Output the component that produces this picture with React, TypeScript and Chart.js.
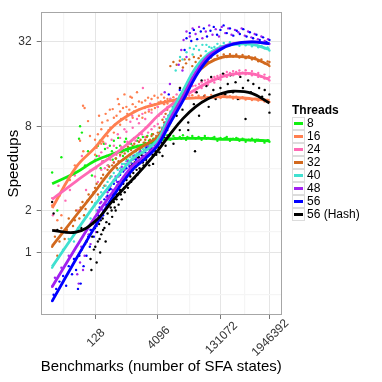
import React, { useEffect, useRef } from "react";
import { Chart, registerables } from "chart.js";
Chart.register(...registerables);

const seriesLabels = ["8", "16", "24", "32", "40", "48", "56", "56 (Hash)"];
const seriesColors = ["#11ee11", "#ff7f50", "#ff69b4", "#d2691e", "#40e0d0", "#a020f0", "#0000ff", "#000000"];

const xTickValues = [128, 4096, 131072, 1946392];
const yTickValues = [1, 2, 8, 32];
const xMinorValues = [22.6, 724, 23170, 505097];
const yMinorValues = [0.5, 1.41, 4, 16];

const smoothStates = [12, 45, 128, 362, 1024, 2048, 4096, 8192, 16384, 32768, 65536, 131072, 262144, 741455, 1946392];
const smooth8 = [3.1, 3.73, 4.53, 5.1, 5.62, 5.94, 6.32, 6.5, 6.54, 6.54, 6.54, 6.45, 6.45, 6.36, 6.28];
const smooth16 = [2.08, 4.08, 5.62, 8.06, 9.99, 10.93, 11.55, 12.13, 12.55, 12.73, 12.82, 13.0, 12.9, 12.55, 12.21];
const smooth24 = [2.4, 3.23, 4.03, 4.99, 6.41, 7.67, 9.51, 11.24, 13.0, 14.62, 16.45, 17.88, 18.9, 19.03, 17.27];
const smooth32 = [1.11, 1.84, 2.73, 4.06, 5.17, 5.9, 6.73, 9.51, 13.83, 18.64, 22.47, 24.76, 25.28, 24.59, 21.86];
const smooth40 = [0.79, 1.41, 2.2, 3.27, 4.69, 5.35, 6.41, 9.78, 14.32, 20.82, 26.17, 29.45, 30.7, 30.7, 28.25];
const smooth48 = [0.57, 1.09, 1.79, 2.77, 4.17, 4.92, 5.98, 9.06, 13.0, 19.16, 25.28, 28.84, 31.12, 32.0, 31.12];
const smooth56 = [0.45, 0.9, 1.53, 2.57, 3.92, 4.69, 5.82, 8.46, 12.13, 18.0, 24.08, 28.25, 30.9, 32.0, 31.12];
const smoothHash = [1.44, 1.4, 1.67, 2.4, 3.34, 4.18, 5.35, 7.06, 9.06, 11.0, 12.55, 13.64, 14.22, 13.74, 11.71];

const pts8: number[][] = [
  [12, 3.73], [16, 2.0], [20, 4.8], [56, 8.0], [62, 7.2], [53, 6.5], [74, 4.2], [87, 5.3], [108, 3.55], [169, 6.3],
  [200, 4.5], [222, 5.5], [263, 4.2], [326, 5.3], [362, 6.3], [407, 4.7], [512, 5.8], [600, 4.9], [710, 6.5], [790, 5.3],
  [935, 6.0], [1000, 4.3], [1100, 4.9], [1300, 6.3], [1550, 5.5], [1700, 4.6], [1800, 6.7], [2130, 5.8], [2520, 6.3],
  [2980, 7.0], [3720, 6.3], [4640, 6.7], [5800, 6.6], [6900, 6.9], [8200, 6.4], [9700, 6.8], [11600, 6.5], [13800, 6.7],
  [16400, 6.9], [19500, 6.4], [23200, 6.6], [27500, 6.8], [33000, 6.5], [39000, 6.7], [46000, 6.4], [55000, 6.8],
  [65500, 6.6], [78000, 6.5], [93000, 6.7], [110000, 6.3], [131000, 6.6], [156000, 6.5], [185000, 6.7], [220000, 6.3],
  [262000, 6.5], [312000, 6.6], [371000, 6.3], [441000, 6.5], [524000, 6.2], [623000, 6.4], [741000, 6.5], [882000, 6.2],
  [1050000, 6.4], [1250000, 6.3], [1480000, 6.1], [1760000, 6.35], [1946000, 6.2], [7500, 6.6], [10500, 6.6], [15000, 6.5],
  [21000, 6.7], [30000, 6.6], [42000, 6.6], [60000, 6.5], [85000, 6.6], [120000, 6.5], [170000, 6.6], [240000, 6.45],
  [340000, 6.5], [480000, 6.4], [680000, 6.35], [960000, 6.4], [1360000, 6.3], [1850000, 6.3],
  [140, 4.9], [150, 5.8], [175, 4.0], [210, 6.0], [240, 4.9], [290, 5.8], [340, 4.6], [420, 5.6], [460, 6.6], [560, 5.4],
  [660, 6.2], [740, 4.6], [880, 5.6], [1150, 5.7], [1400, 6.6], [1600, 5.2], [2000, 6.1], [2300, 6.8], [2700, 5.6],
  [3200, 6.5], [4000, 6.0], [3000, 5.4],
];
const pts16: number[][] = [
  [12, 2.17], [14, 1.44], [16, 1.7], [18, 2.55], [20, 1.85], [32, 3.3], [42, 4.2], [66, 11.2], [72, 10.8], [56, 6.3],
  [67, 5.3], [87, 8.7], [97, 6.8], [128, 5.0], [128, 6.4], [140, 5.6], [181, 6.0], [181, 7.6], [190, 8.5], [256, 6.8],
  [256, 8.8], [270, 7.5], [362, 7.2], [362, 9.2], [380, 8.2], [340, 10.6], [512, 8.2], [512, 10.2], [540, 9.0], [480, 11.5],
  [724, 8.9], [724, 11.0], [760, 9.8], [1024, 9.2], [1024, 11.5], [1100, 10.2], [980, 12.8], [1448, 9.5], [1448, 12.0],
  [1500, 10.6], [2048, 10.0], [2048, 12.2], [2100, 11.0], [2900, 10.5], [2900, 12.5], [3000, 11.3], [4096, 11.0],
  [4096, 12.8], [4300, 11.8], [5800, 11.5], [5800, 12.8], [6100, 12.1], [8200, 12.4], [9700, 12.9], [11600, 12.3],
  [13800, 13.2], [16400, 12.6], [19500, 13.0], [23200, 12.7], [27500, 13.3], [33000, 12.8], [39000, 13.2], [46000, 12.6],
  [55000, 13.3], [65500, 12.9], [78000, 13.4], [93000, 12.8], [110000, 13.2], [131000, 12.7], [156000, 13.3],
  [185000, 12.9], [220000, 13.1], [262000, 12.6], [312000, 13.0], [371000, 12.5], [441000, 12.9], [524000, 12.4],
  [623000, 12.7], [741000, 12.3], [882000, 12.6], [1050000, 12.2], [1250000, 12.5], [1480000, 12.0], [1760000, 12.3],
  [1946000, 11.9],
  [150, 7.0], [160, 9.5], [200, 6.2], [230, 9.8], [290, 10.5], [300, 7.8], [420, 9.5], [450, 12.5], [600, 10.8],
  [650, 13.5], [850, 10.5], [900, 13.0], [1200, 11.0], [1300, 14.0], [1700, 11.8], [1750, 9.2], [2400, 12.8], [2500, 10.2],
  [3400, 13.2], [3500, 10.8], [4800, 12.0], [5000, 13.5], [7000, 12.5], [7000, 11.6],
];
const pts24: number[][] = [
  [12, 2.45], [12.5, 1.85], [17, 3.0], [25, 2.35], [32, 2.8], [42, 3.55], [50, 2.0], [62, 4.9], [78, 2.8], [97, 3.85],
  [128, 3.5], [128, 4.6], [135, 4.0], [181, 3.9], [181, 5.2], [190, 4.5], [256, 4.2], [256, 5.6], [270, 4.9], [362, 4.4],
  [362, 5.8], [380, 5.1], [512, 4.9], [512, 6.6], [540, 5.7], [724, 5.4], [724, 7.3], [760, 6.2], [1024, 5.6], [1024, 7.8],
  [1100, 6.6], [1000, 9.5], [1448, 6.2], [1448, 8.4], [1500, 7.1], [2048, 6.7], [2048, 9.0], [2100, 7.8], [2000, 10.8],
  [1800, 15.0], [2900, 7.6], [2900, 10.0], [3000, 8.6], [2700, 11.6], [4096, 8.3], [4096, 11.0], [4300, 9.5], [5800, 9.3],
  [5800, 11.8], [8200, 10.2], [8200, 12.6], [11600, 11.5], [11600, 13.5], [16400, 12.2], [16400, 14.3], [23200, 13.2],
  [23200, 15.0], [32800, 14.0], [32800, 15.6], [46000, 15.0], [46000, 16.5], [65500, 15.8], [65500, 17.2], [93000, 16.4],
  [93000, 18.0], [131000, 17.2], [131000, 18.6], [185000, 18.0], [185000, 19.5], [262000, 18.5], [262000, 19.8],
  [370000, 18.6], [370000, 20.0], [524000, 18.8], [524000, 20.1], [741000, 18.5], [741000, 19.8], [1050000, 18.0],
  [1050000, 19.2], [1480000, 17.5], [1480000, 18.7], [1946000, 17.0], [1946000, 18.0],
  [150, 3.2], [160, 4.9], [220, 4.0], [230, 6.0], [300, 4.6], [320, 6.4], [420, 5.0], [450, 7.0], [600, 5.3], [650, 7.6],
  [850, 6.0], [900, 8.6], [1200, 6.3], [1300, 9.0], [1700, 7.0], [1750, 9.8], [2400, 7.2], [2500, 10.5], [3400, 8.0],
  [3500, 11.5], [5000, 9.8], [7000, 11.0], [10000, 12.0], [14000, 13.0], [20000, 14.5], [28000, 15.5], [40000, 16.0],
  [55000, 17.0], [80000, 17.5], [110000, 18.3], [160000, 18.8], [220000, 19.2], [310000, 19.5], [440000, 19.3],
  [620000, 19.0], [880000, 18.8], [1250000, 18.0], [1760000, 17.6],
];
const pts32: number[][] = [
  [12, 1.1], [14, 1.3], [16, 0.95], [20, 1.5], [24, 1.25], [30, 1.75], [38, 1.55], [45, 2.0], [54, 1.75], [64, 2.3],
  [76, 2.05], [90, 2.6], [108, 2.3], [128, 2.9], [150, 2.6], [181, 3.4], [215, 3.0], [256, 3.9], [304, 3.5], [362, 4.4],
  [431, 4.0], [512, 5.0], [609, 4.6], [724, 5.5], [861, 5.0], [1024, 5.8], [1218, 5.3], [1448, 6.2], [1722, 5.6],
  [2048, 6.4], [2435, 5.9], [2896, 6.8], [3444, 6.2], [4096, 7.2], [5800, 8.5], [6900, 10.5], [9700, 12.0], [13800, 15.0],
  [8200, 21.5], [9700, 23.0], [11600, 22.0], [13800, 23.5], [16400, 21.0], [19500, 22.5], [23200, 24.0], [27500, 21.5],
  [33000, 23.0], [39000, 24.5], [46000, 22.5], [55000, 23.8], [65500, 23.0], [78000, 24.8], [93000, 24.0], [110000, 25.5],
  [131000, 24.5], [156000, 26.0], [185000, 25.0], [220000, 26.2], [262000, 25.2], [312000, 26.0], [371000, 24.8],
  [441000, 25.8], [524000, 24.5], [623000, 25.3], [741000, 24.0], [882000, 24.8], [1050000, 23.3], [1250000, 24.0],
  [1480000, 22.5], [1760000, 23.2], [1946000, 21.5], [1946000, 23.0],
  [18, 1.2], [27, 1.45], [42, 1.7], [58, 2.1], [70, 1.85], [84, 2.35], [100, 2.5], [118, 2.7], [140, 3.1], [165, 3.0],
  [200, 3.6], [240, 3.5], [280, 4.1], [330, 4.2], [400, 4.7], [470, 4.5], [560, 5.2], [660, 5.1], [790, 5.7], [940, 5.4],
  [1120, 6.0], [1330, 5.8], [1580, 6.4], [1880, 6.1], [2240, 6.7], [2660, 6.4], [3160, 7.0], [3760, 6.8], [4500, 7.8],
  [5300, 8.9], [6300, 9.8], [7500, 11.0], [18000, 24.0], [30000, 25.0], [44000, 25.5],
];
const pts40: number[][] = [
  [12, 0.78], [16, 0.9], [22, 1.05], [30, 1.25], [40, 1.2], [50, 1.5], [64, 1.45], [80, 1.8], [100, 1.75], [128, 2.25],
  [160, 2.5], [200, 2.9], [256, 3.2], [320, 3.5], [400, 3.4], [512, 4.0], [640, 4.3], [800, 4.6], [1024, 4.9], [1300, 5.1],
  [1600, 5.3], [2048, 5.6], [2600, 5.9], [3300, 6.3], [4096, 6.8], [5200, 7.8], [6500, 9.0], [8200, 10.0], [10000, 11.5],
  [11000, 20.0], [14000, 25.0], [20000, 27.0], [24000, 29.0], [28000, 26.0], [34000, 30.0], [40000, 28.0], [48000, 30.5],
  [58000, 27.5], [70000, 29.5], [93000, 29.5], [110000, 31.0], [131000, 30.0], [156000, 31.5], [185000, 30.2],
  [220000, 31.8], [262000, 30.5], [312000, 31.5], [371000, 30.0], [441000, 31.2], [524000, 30.3], [623000, 31.0],
  [741000, 29.8], [882000, 30.5], [1050000, 29.3], [1250000, 30.0], [1480000, 28.8], [1760000, 29.2], [1946000, 27.8],
  [140, 2.0], [180, 2.7], [230, 3.0], [290, 3.4], [360, 3.7], [450, 3.9], [570, 4.3], [720, 4.5], [900, 4.8], [1150, 5.0],
  [1450, 5.2], [1800, 5.5], [2300, 5.8], [2900, 6.1], [3700, 6.6], [4600, 7.3], [5800, 8.2], [7300, 9.5], [9200, 11.0],
  [16000, 24.0], [30000, 28.5], [60000, 30.5], [80000, 29.0],
];
const pts48: number[][] = [
  [12, 0.57], [14, 0.66], [20, 0.78], [30, 0.95], [42, 0.9], [48, 0.7], [52, 0.6], [56, 0.85], [60, 1.1], [66, 0.75],
  [72, 0.95], [80, 1.2], [90, 1.35], [100, 1.15], [115, 1.6], [128, 1.8], [150, 2.0], [181, 2.3], [215, 2.2], [256, 2.7],
  [304, 3.0], [362, 3.3], [431, 3.2], [512, 3.8], [609, 4.0], [724, 4.3], [861, 4.2], [1024, 4.6], [1218, 4.8],
  [1448, 5.1], [1722, 4.9], [2048, 5.4], [2435, 5.7], [2896, 6.0], [3444, 5.8], [4096, 6.6], [4871, 7.2], [5793, 8.0],
  [6889, 8.8], [8192, 9.8], [9742, 11.0], [11585, 12.5], [6000, 14.0], [8000, 16.0], [16000, 20.0], [20000, 25.0],
  [17000, 33.0], [20000, 38.0], [24000, 35.0], [28000, 40.0], [33000, 36.5], [40000, 41.0], [48000, 34.0], [58000, 38.0],
  [70000, 42.0], [84000, 36.0], [100000, 39.5], [120000, 35.0], [140000, 41.0], [170000, 37.0], [200000, 40.0],
  [240000, 36.0], [290000, 39.0], [350000, 37.5], [420000, 40.0], [500000, 35.5], [600000, 38.0], [720000, 34.5],
  [860000, 36.5], [1030000, 33.5], [1250000, 35.0], [1500000, 32.5], [1800000, 33.5], [1946000, 31.0],
  [95, 1.55], [135, 1.4], [170, 2.25], [200, 2.0], [240, 2.5], [290, 2.9], [340, 2.8], [400, 3.5], [470, 3.5], [560, 4.1],
  [660, 3.9], [780, 4.5], [920, 4.4], [1100, 4.9], [1300, 4.7], [1550, 5.3], [1850, 5.2], [2200, 5.8], [2650, 5.5],
  [3150, 6.3], [3750, 6.1], [4400, 6.9], [5300, 7.6], [6300, 8.5], [7500, 9.5], [13000, 22.0], [15000, 28.0],
];
const pts56: number[][] = [
  [12, 0.45], [13, 0.5], [15, 0.55], [18, 0.62], [22, 0.68], [26, 0.58], [30, 0.8], [36, 0.7], [40, 0.9], [45, 0.75],
  [50, 0.55], [54, 0.95], [58, 0.6], [62, 1.05], [68, 0.8], [74, 1.15], [80, 0.95], [88, 1.3], [96, 1.1], [108, 1.45],
  [120, 1.3], [128, 1.65], [150, 1.85], [181, 2.05], [215, 2.4], [256, 2.55], [304, 2.85], [362, 3.1], [431, 3.0],
  [512, 3.6], [609, 3.8], [724, 4.0], [861, 4.1], [1024, 4.3], [1218, 4.6], [1448, 4.8], [1722, 4.7], [2048, 5.2],
  [2435, 5.5], [2896, 5.6], [3444, 5.9], [4096, 6.2], [4871, 6.8], [5793, 7.6], [6889, 8.5], [8192, 9.2], [9742, 10.5],
  [11585, 12.0], [13777, 14.5], [7500, 13.5], [20000, 34.0], [24000, 37.0], [30000, 39.0], [36000, 33.5], [44000, 38.0],
  [52000, 40.0], [62000, 35.0], [75000, 38.5], [90000, 41.0], [108000, 36.0], [130000, 39.0], [155000, 42.0],
  [185000, 37.0], [220000, 40.0], [265000, 35.5], [320000, 38.5], [380000, 36.5], [460000, 39.5], [550000, 35.0],
  [660000, 37.5], [790000, 34.0], [950000, 36.0], [1140000, 33.0], [1370000, 34.5], [1650000, 32.0], [1946000, 33.0],
  [100, 1.45], [140, 1.55], [165, 2.1], [200, 1.85], [240, 2.2], [280, 2.8], [330, 2.6], [400, 3.3], [470, 3.2], [560, 3.9],
  [660, 3.5], [780, 4.3], [920, 4.0], [1100, 4.7], [1300, 4.4], [1550, 5.1], [1850, 4.9], [2200, 5.6], [2650, 5.3],
  [3150, 6.1], [3750, 5.7], [4400, 6.6], [5300, 7.2], [6300, 8.0], [7500, 8.9], [9000, 10.2], [18000, 28.0], [26000, 32.5],
];
const ptsHash: number[][] = [
  [12, 2.3], [13, 1.9], [16, 1.45], [60, 1.5], [80, 1.2], [100, 0.9], [110, 1.3], [120, 1.05], [128, 1.5], [140, 0.85],
  [150, 1.2], [160, 1.6], [170, 1.0], [181, 1.35], [195, 1.75], [215, 1.5], [230, 1.2], [256, 1.9], [280, 1.6], [304, 2.1],
  [330, 1.8], [362, 2.3], [400, 2.0], [431, 2.6], [470, 2.2], [512, 2.8], [560, 2.4], [609, 3.1], [660, 2.7], [724, 3.3],
  [790, 2.9], [861, 3.6], [940, 3.2], [1024, 3.9], [1120, 3.4], [1218, 4.1], [1330, 3.6], [1448, 4.4], [1580, 3.9],
  [1722, 4.6], [1880, 4.2], [2048, 4.9], [2240, 4.4], [2435, 5.1], [2660, 4.6], [2896, 5.4], [3160, 4.3], [3444, 5.6],
  [3760, 5.0], [4096, 5.8], [4500, 5.2], [4871, 6.4], [5300, 4.9], [5793, 6.9], [6300, 5.8], [6889, 7.5], [8192, 8.5],
  [9742, 6.0], [11585, 9.5], [13777, 7.5], [32000, 5.3], [22000, 7.5], [12000, 12.0], [14000, 15.0], [16000, 10.5],
  [19000, 13.5], [22000, 8.5], [26000, 16.0], [30000, 11.5], [35000, 14.0], [40000, 9.5], [46000, 17.0], [52000, 13.0],
  [60000, 15.5], [68000, 11.0], [78000, 18.0], [88000, 14.5], [100000, 12.5], [115000, 17.5], [130000, 15.0],
  [150000, 19.0], [170000, 13.5], [195000, 16.0], [225000, 18.5], [260000, 14.0], [300000, 16.5], [340000, 12.5],
  [390000, 18.0], [450000, 15.0], [520000, 9.0], [600000, 17.0], [700000, 14.0], [800000, 16.0], [950000, 12.5],
  [1100000, 15.0], [1300000, 13.0], [1500000, 14.5], [1750000, 12.0], [1946000, 10.0], [1946000, 13.5],
  [105, 0.75], [130, 1.1], [145, 1.4], [165, 1.25], [175, 1.7], [200, 1.45], [240, 1.65], [270, 2.2], [320, 2.0], [350, 2.6],
  [380, 2.1], [420, 2.4], [460, 3.0], [530, 2.6], [580, 3.3], [640, 2.9], [700, 3.6], [760, 3.1], [820, 3.8], [900, 3.5],
  [980, 4.2], [1060, 3.7], [1150, 4.4], [1270, 3.9], [1400, 4.8], [1500, 4.0], [1650, 5.0], [1800, 4.4], [1950, 5.3],
  [2150, 4.6], [2350, 5.5], [2550, 4.2], [2800, 5.7], [3050, 5.0], [3300, 6.1], [3600, 5.3], [3900, 6.4], [4300, 5.6],
  [4700, 7.0], [5100, 6.1], [5500, 7.4], [6000, 6.6], [7000, 8.1], [7800, 6.9], [9000, 9.0],
];

const smoothSeries = [smooth8, smooth16, smooth24, smooth32, smooth40, smooth48, smooth56, smoothHash];
const pointSeries = [pts8, pts16, pts24, pts32, pts40, pts48, pts56, ptsHash];

const FONT = "'Liberation Sans', Arial, Helvetica, sans-serif";
const xMajor = new Set(xTickValues);
const yMajor = new Set(yTickValues);

const borderPlugin = {
  id: "panelBorder",
  afterDatasetsDraw(chart: any) {
    const { ctx, chartArea } = chart;
    ctx.save();
    ctx.strokeStyle = "#a6a6a6";
    ctx.lineWidth = 1;
    ctx.strokeRect(Math.round(chartArea.left) + 0.5, Math.round(chartArea.top) + 0.5,
      Math.round(chartArea.right - chartArea.left) - 1, Math.round(chartArea.bottom - chartArea.top) - 1);
    ctx.restore();
  },
};

// x tick labels rotated 45 degrees, centred on their tick (as in the original)
const xLabelPlugin = {
  id: "xRotatedLabels",
  afterDraw(chart: any) {
    const { ctx, chartArea } = chart;
    const xs = chart.scales.x;
    ctx.save();
    ctx.fillStyle = "#333";
    ctx.font = `12px ${FONT}`;
    ctx.textAlign = "center";
    ctx.textBaseline = "middle";
    xTickValues.forEach((v) => {
      const px = xs.getPixelForValue(v);
      ctx.save();
      ctx.translate(px + 1, chartArea.bottom + 23);
      ctx.rotate(-Math.PI / 4);
      ctx.fillText(String(v), 0, 0);
      ctx.restore();
    });
    ctx.restore();
  },
};

export default function App() {
  const ref = useRef<HTMLCanvasElement | null>(null);
  useEffect(() => {
    document.body.style.margin = "0";
    const canvas = ref.current;
    if (!canvas) return;
    const datasets: any[] = [];
    pointSeries.forEach((pts, i) => {
      datasets.push({
        type: "scatter",
        label: seriesLabels[i] + " points",
        data: pts.map(([x, y]) => ({ x, y })),
        backgroundColor: seriesColors[i],
        borderWidth: 0,
        pointRadius: 1.2,
        pointHoverRadius: 1.2,
        order: 20 - i,
      });
    });
    smoothSeries.forEach((vals, i) => {
      datasets.push({
        type: "line",
        label: seriesLabels[i],
        data: vals.map((y, k) => ({ x: smoothStates[k], y })),
        borderColor: seriesColors[i],
        backgroundColor: seriesColors[i],
        borderWidth: 2.8,
        pointRadius: 0,
        tension: 0.4,
        fill: false,
        order: 7 - i,
      });
    });
    const chart = new Chart(canvas, {
      type: "scatter",
      data: { datasets },
      plugins: [borderPlugin, xLabelPlugin],
      options: {
        animation: false,
        responsive: false,
        devicePixelRatio: 1,
        layout: { padding: { left: 0, top: 11, right: 100.3, bottom: 0 } },
        plugins: { legend: { display: false }, tooltip: { enabled: false } },
        scales: {
          x: {
            type: "logarithmic",
            min: 6.38,
            max: 3830000,
            afterBuildTicks: (scale: any) => {
              scale.ticks = [...xTickValues, ...xMinorValues].sort((a, b) => a - b).map((v) => ({ value: v }));
            },
            afterFit: (scale: any) => { scale.height = 67; },
            border: { display: false },
            grid: {
              color: (c: any) => (xMajor.has(c.tick?.value) ? "#e5e5e5" : "#f5f5f5"),
              lineWidth: (c: any) => (xMajor.has(c.tick?.value) ? 1 : 1.2),
              tickColor: (c: any) => (xMajor.has(c.tick?.value) ? "#777" : "rgba(0,0,0,0)"),
              tickLength: 4,
              tickWidth: 1,
            },
            ticks: {
              autoSkip: false,
              minRotation: 0,
              maxRotation: 0,
              color: "#333",
              font: { family: FONT, size: 12 },
              callback: () => "",
            },
            title: {
              display: true,
              text: "Benchmarks (number of SFA states)",
              color: "#000",
              font: { family: FONT, size: 15 },
              padding: { top: 0, bottom: 6.5 },
            },
          },
          y: {
            type: "logarithmic",
            min: 0.358,
            max: 52.2,
            afterBuildTicks: (scale: any) => {
              scale.ticks = [...yTickValues, ...yMinorValues].sort((a, b) => a - b).map((v) => ({ value: v }));
            },
            afterFit: (scale: any) => { scale.width = 40.7; },
            border: { display: false },
            grid: {
              color: (c: any) => (yMajor.has(c.tick?.value) ? "#e5e5e5" : "#f5f5f5"),
              lineWidth: (c: any) => (yMajor.has(c.tick?.value) ? 1 : 1.2),
              tickColor: (c: any) => (yMajor.has(c.tick?.value) ? "#777" : "rgba(0,0,0,0)"),
              tickLength: 4,
              tickWidth: 1,
            },
            ticks: {
              autoSkip: false,
              padding: 5,
              color: "#333",
              font: { family: FONT, size: 12 },
              callback: (v: any) => (yMajor.has(Number(v)) ? String(v) : ""),
            },
            title: {
              display: true,
              text: "Speedups",
              color: "#000",
              font: { family: FONT, size: 15 },
              padding: { top: 5, bottom: 0 },
            },
          },
        },
      } as any,
    });
    return () => chart.destroy();
  }, []);

  return (
    <div style={{ position: "relative", width: 382, height: 382, fontFamily: FONT }}>
      <canvas ref={ref} width={382} height={382} style={{ width: 382, height: 382, display: "block" }} />
      <div style={{ position: "absolute", left: 292, top: 103, fontSize: 12, fontWeight: "bold", lineHeight: "14px", color: "#000" }}>
        Threads
      </div>
      {seriesLabels.map((lab, i) => (
        <React.Fragment key={lab}>
          <div
            style={{
              position: "absolute", left: 291.5, top: 116.8 + 13 * i, width: 13.5, height: 13,
              boxSizing: "border-box", border: "1px solid #dcdcdc", background: "#fff",
            }}
          >
            <div style={{ position: "absolute", left: 1, right: 1, top: 4.5, height: 3, background: seriesColors[i] }} />
          </div>
          <div style={{ position: "absolute", left: 307, top: 116.8 + 13 * i, fontSize: 12, lineHeight: "13px", color: "#000", whiteSpace: "nowrap" }}>
            {lab}
          </div>
        </React.Fragment>
      ))}
    </div>
  );
}
